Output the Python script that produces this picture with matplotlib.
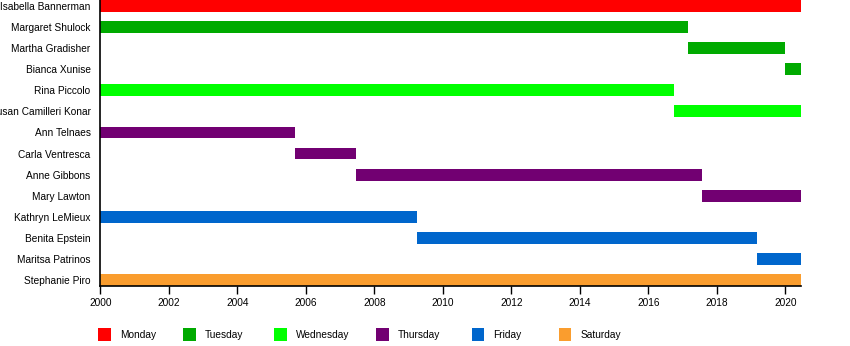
import matplotlib
matplotlib.use("Agg")
import matplotlib.pyplot as plt
from matplotlib.patches import Rectangle

plt.rcParams['font.family'] = ['Liberation Sans', 'DejaVu Sans']

names = ["Isabella Bannerman", "Margaret Shulock", "Martha Gradisher", "Bianca Xunise",
         "Rina Piccolo", "Susan Camilleri Konar", "Ann Telnaes", "Carla Ventresca",
         "Anne Gibbons", "Mary Lawton", "Kathryn LeMieux", "Benita Epstein",
         "Maritsa Patrinos", "Stephanie Piro"]
starts = [2000.0, 2000.0, 2017.17, 2019.99,
          2000.0, 2016.76, 2000.0, 2005.68,
          2007.48, 2017.58, 2000.0, 2009.26,
          2019.18, 2000.0]
ends = [2020.45, 2017.17, 2019.99, 2020.45,
        2016.76, 2020.45, 2005.68, 2007.48,
        2017.58, 2020.45, 2009.26, 2019.18,
        2020.45, 2020.45]
days = ["Monday", "Tuesday", "Tuesday", "Tuesday",
        "Wednesday", "Wednesday", "Thursday", "Thursday",
        "Thursday", "Thursday", "Friday", "Friday",
        "Friday", "Saturday"]
legend_days = ["Monday", "Tuesday", "Wednesday", "Thursday", "Friday", "Saturday"]
day_colors = {"Monday": "#ff0000", "Tuesday": "#00aa00", "Wednesday": "#00ff00",
              "Thursday": "#720072", "Friday": "#0066cc", "Saturday": "#fa9d2e"}
xticks = list(range(2000, 2021, 2))

W, H = 850, 346
fig = plt.figure(figsize=(W / 100, H / 100), dpi=100)
ax = fig.add_axes([100.3 / W, 1 - 286 / H, (800.7 - 100.3) / W, 286 / H])

bar_h = 0.555
for i, (s, e, d) in enumerate(zip(starts, ends, days)):
    ax.barh(i, e - s, left=s, height=bar_h, color=day_colors[d], linewidth=0)

ax.set_ylim(len(names) - 1 + bar_h / 2, -bar_h / 2)
ax.set_xlim(2000, 2020.45)
ax.set_yticks(range(len(names)))
ax.set_yticklabels(names, fontsize=7.3)
ax.tick_params(axis='y', length=0, pad=7)
ax.set_xticks(xticks)
ax.set_xticklabels([str(x) for x in xticks], fontsize=7.3)
ax.tick_params(axis='x', length=5.5, width=1, pad=3.5, direction='out')
for sp in ['top', 'right']:
    ax.spines[sp].set_visible(False)
for sp in ['left', 'bottom']:
    ax.spines[sp].set_linewidth(1.2)
    ax.spines[sp].set_color('black')

# legend drawn manually in pixel positions
sq_x = [98.3, 183, 274, 376, 471.5, 558.5]
for x, d in zip(sq_x, legend_days):
    fig.add_artist(Rectangle((x / W, 1 - 341 / H), 12.5 / W, 13 / H,
                             transform=fig.transFigure, color=day_colors[d], linewidth=0))
    fig.text((x + 22) / W, 1 - 335.5 / H, d, fontsize=7.3, va='center', ha='left')

fig.savefig("out.png", dpi=100)
